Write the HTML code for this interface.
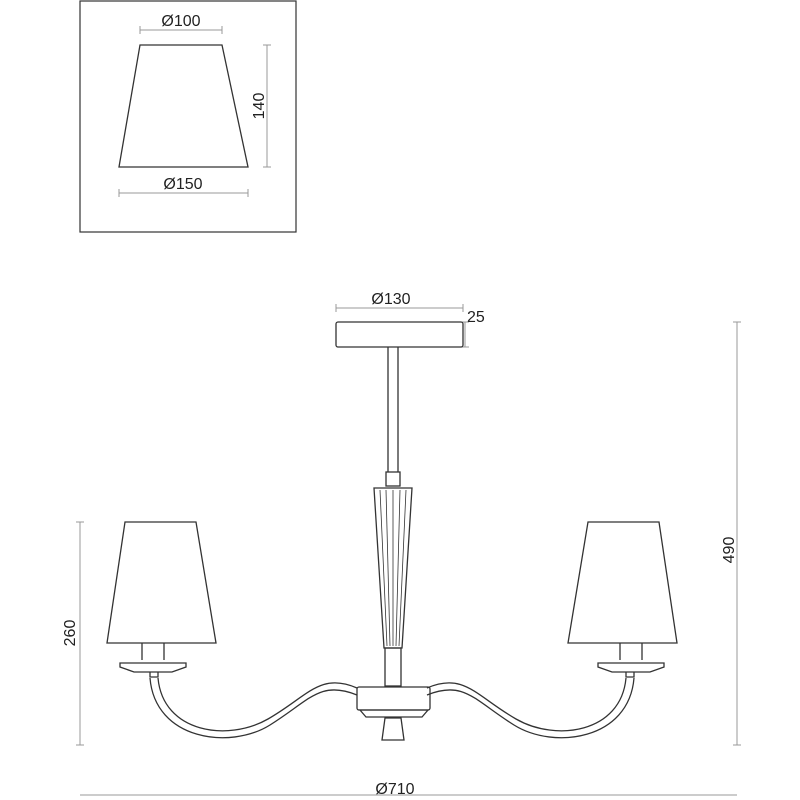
<!DOCTYPE html>
<html><head><style>body{margin:0;background:#fff}svg{display:block}</style></head><body>
<svg width="800" height="800" viewBox="0 0 800 800" xmlns="http://www.w3.org/2000/svg" font-family="Liberation Sans, sans-serif" font-size="16" fill="none" stroke="#333" stroke-width="1.3">
<rect x="80" y="1" width="216" height="231" stroke-width="1.2"/>
<path d="M140 45 L222 45 L248 167 L119 167 Z"/>
<g stroke="#999" stroke-width="1">
<path d="M140 30H222M140 26v8M222 26v8"/>
<path d="M267 45V167M263 45h8M263 167h8"/>
<path d="M119 193H248M119 189v8M248 189v8"/>
<path d="M336 308H463M336 304v8M463 304v8"/>
<path d="M465 322V347M461 322h8M461 347h8"/>
<path d="M80 522V745M76 522h8M76 745h8"/>
<path d="M737 322V745M733 322h8M733 745h8"/>
<path d="M80 795H737"/>
</g>
<g fill="#222" stroke="none">
<text x="181" y="26" text-anchor="middle">Ø100</text>
<text x="183" y="189" text-anchor="middle">Ø150</text>
<text transform="translate(264,106) rotate(-90)" text-anchor="middle">140</text>
<text x="391" y="304" text-anchor="middle">Ø130</text>
<text x="467" y="322">25</text>
<text transform="translate(75,633) rotate(-90)" text-anchor="middle">260</text>
<text transform="translate(734,550) rotate(-90)" text-anchor="middle">490</text>
<text x="395" y="794" text-anchor="middle">Ø710</text>
</g>
<rect x="336" y="322" width="127" height="25" rx="2"/>
<path d="M388 347V472M398 347V472"/>
<rect x="386" y="472" width="14" height="14"/>
<path d="M374 488L412 488 402 648 384 648Z"/>
<g stroke-width="0.8"><path d="M380 490L387 646M386 490L390 646M393 490L393 646M400 490L396 646M406 490L399 646"/></g>
<rect x="385" y="648" width="16" height="38"/>
<rect x="357" y="687" width="73" height="23" rx="2"/>
<path d="M360 710L428 710 422 717 366 717Z"/>
<path d="M385 718L401 718 404 740 382 740Z"/>
<g id="L">
<path d="M125 522L196 522 216 643 107 643Z"/>
<path d="M142 643V660M164 643V660"/>
<path d="M120 663H186V667L172 672H134L120 667Z"/>
<path d="M150 672V677H158V672"/>
<path d="M150 678C155 740 230 750 270 725C310 700 320 680 357 695M158 678C163 733 228 742 268 719C308 696 320 672 357 688"/>
</g>
<use href="#L" transform="translate(784,0) scale(-1,1)"/>
</svg>
</body></html>
